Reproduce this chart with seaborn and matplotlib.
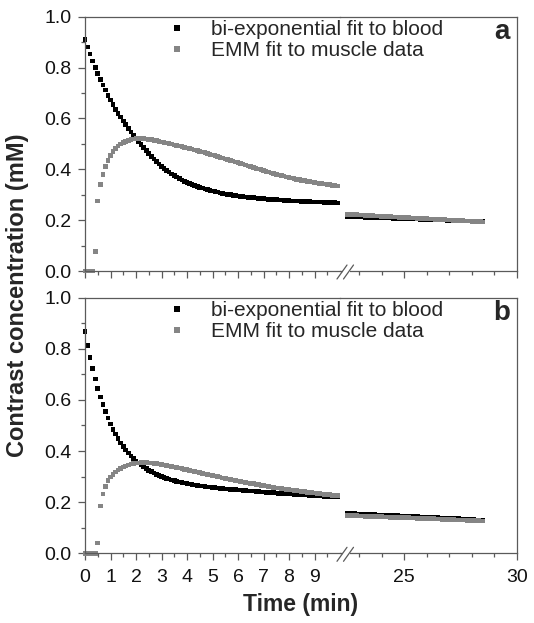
import numpy as np
import pandas as pd
import matplotlib
matplotlib.use("Agg")
import matplotlib.pyplot as plt
from matplotlib.ticker import FixedLocator, MultipleLocator, FormatStrFormatter
from matplotlib.lines import Line2D
from matplotlib.patches import Rectangle
import seaborn as sns

# ---- data ----
fits = ["bi-exponential fit to blood", "EMM fit to muscle data"]
fit_colors = {fits[0]: "#000000", fits[1]: "#858585"}

# sampling times (min): early part 0.0 ... 9.9, late part 22.5 ... 28.5
t_early = np.round(np.arange(0, 10.0, 0.1), 1)
t_late = np.round(np.arange(22.5, 28.55, 0.1), 1)

blood_a = [
    0.910, 0.881, 0.853, 0.826, 0.800, 0.776, 0.753, 0.731, 0.711, 0.691,
    0.672, 0.654, 0.636, 0.620, 0.605, 0.590, 0.575, 0.561, 0.547, 0.534,
    0.522, 0.509, 0.497, 0.485, 0.473, 0.462, 0.451, 0.441, 0.431, 0.421,
    0.412, 0.404, 0.396, 0.389, 0.382, 0.375, 0.369, 0.363, 0.358, 0.353,
    0.348, 0.344, 0.340, 0.336, 0.332, 0.329, 0.326, 0.323, 0.320, 0.317,
    0.314, 0.312, 0.310, 0.307, 0.305, 0.303, 0.301, 0.300, 0.298, 0.296,
    0.295, 0.294, 0.292, 0.291, 0.290, 0.289, 0.288, 0.287, 0.286, 0.285,
    0.284, 0.283, 0.282, 0.282, 0.281, 0.280, 0.279, 0.279, 0.278, 0.277,
    0.277, 0.276, 0.276, 0.275, 0.275, 0.274, 0.274, 0.273, 0.273, 0.272,
    0.272, 0.272, 0.271, 0.271, 0.270, 0.270, 0.270, 0.269, 0.269, 0.268,
]
muscle_a = [
    0.000, 0.000, 0.000, 0.000, 0.076, 0.275, 0.340, 0.380, 0.412, 0.435,
    0.454, 0.469, 0.481, 0.491, 0.499, 0.505, 0.510, 0.514, 0.517, 0.519,
    0.520, 0.521, 0.521, 0.520, 0.519, 0.518, 0.516, 0.514, 0.512, 0.510,
    0.508, 0.506, 0.503, 0.501, 0.499, 0.496, 0.494, 0.491, 0.489, 0.486,
    0.484, 0.481, 0.479, 0.476, 0.473, 0.471, 0.468, 0.465, 0.462, 0.459,
    0.456, 0.453, 0.450, 0.447, 0.444, 0.441, 0.438, 0.435, 0.432, 0.429,
    0.426, 0.423, 0.420, 0.417, 0.413, 0.410, 0.407, 0.404, 0.401, 0.398,
    0.395, 0.392, 0.389, 0.386, 0.383, 0.380, 0.378, 0.375, 0.373, 0.370,
    0.368, 0.366, 0.363, 0.361, 0.359, 0.357, 0.355, 0.353, 0.351, 0.350,
    0.348, 0.346, 0.345, 0.343, 0.342, 0.340, 0.339, 0.337, 0.336, 0.334,
]
blood_a_late = [
    0.214, 0.214, 0.213, 0.213, 0.213, 0.212, 0.212, 0.212, 0.211, 0.211,
    0.211, 0.210, 0.210, 0.210, 0.209, 0.209, 0.209, 0.208, 0.208, 0.208,
    0.207, 0.207, 0.207, 0.206, 0.206, 0.206, 0.205, 0.205, 0.205, 0.204,
    0.204, 0.204, 0.203, 0.203, 0.203, 0.202, 0.202, 0.202, 0.201, 0.201,
    0.201, 0.200, 0.200, 0.200, 0.199, 0.199, 0.199, 0.198, 0.198, 0.198,
    0.197, 0.197, 0.197, 0.196, 0.196, 0.196, 0.195, 0.195, 0.195, 0.194,
    0.194,
]
muscle_a_late = [
    0.2230, 0.2225, 0.2220, 0.2215, 0.2210, 0.2205, 0.2200, 0.2195, 0.2190, 0.2185,
    0.2180, 0.2175, 0.2170, 0.2165, 0.2160, 0.2155, 0.2150, 0.2145, 0.2140, 0.2135,
    0.2130, 0.2125, 0.2120, 0.2115, 0.2110, 0.2105, 0.2100, 0.2095, 0.2090, 0.2085,
    0.2080, 0.2075, 0.2070, 0.2065, 0.2060, 0.2055, 0.2050, 0.2045, 0.2040, 0.2035,
    0.2030, 0.2025, 0.2020, 0.2015, 0.2010, 0.2005, 0.2000, 0.1995, 0.1990, 0.1985,
    0.1980, 0.1975, 0.1970, 0.1965, 0.1960, 0.1955, 0.1950, 0.1945, 0.1940, 0.1935,
    0.1930,
]

blood_b = [
    0.867, 0.814, 0.766, 0.722, 0.682, 0.645, 0.612, 0.582, 0.554, 0.529,
    0.506, 0.485, 0.466, 0.448, 0.432, 0.417, 0.404, 0.392, 0.381, 0.371,
    0.361, 0.353, 0.345, 0.338, 0.331, 0.325, 0.319, 0.314, 0.309, 0.305,
    0.301, 0.297, 0.293, 0.290, 0.287, 0.284, 0.282, 0.279, 0.277, 0.275,
    0.273, 0.271, 0.269, 0.267, 0.266, 0.264, 0.263, 0.261, 0.260, 0.259,
    0.258, 0.257, 0.256, 0.254, 0.253, 0.252, 0.251, 0.250, 0.250, 0.249,
    0.248, 0.247, 0.246, 0.245, 0.244, 0.243, 0.243, 0.242, 0.241, 0.240,
    0.240, 0.239, 0.238, 0.237, 0.237, 0.236, 0.235, 0.235, 0.234, 0.233,
    0.232, 0.232, 0.231, 0.230, 0.230, 0.229, 0.228, 0.228, 0.227, 0.226,
    0.226, 0.225, 0.224, 0.224, 0.223, 0.222, 0.222, 0.221, 0.221, 0.220,
]
muscle_b = [
    0.000, 0.000, 0.000, 0.000, 0.000, 0.041, 0.185, 0.232, 0.262, 0.285,
    0.298, 0.309, 0.318, 0.326, 0.332, 0.338, 0.342, 0.346, 0.349, 0.351,
    0.353, 0.354, 0.355, 0.355, 0.355, 0.354, 0.353, 0.352, 0.351, 0.350,
    0.348, 0.346, 0.344, 0.342, 0.340, 0.338, 0.336, 0.333, 0.331, 0.329,
    0.327, 0.325, 0.322, 0.320, 0.318, 0.316, 0.313, 0.311, 0.309, 0.307,
    0.304, 0.302, 0.300, 0.298, 0.295, 0.293, 0.291, 0.289, 0.287, 0.285,
    0.283, 0.281, 0.279, 0.277, 0.275, 0.273, 0.272, 0.270, 0.268, 0.266,
    0.265, 0.263, 0.261, 0.260, 0.258, 0.256, 0.255, 0.253, 0.252, 0.250,
    0.249, 0.248, 0.246, 0.245, 0.243, 0.242, 0.241, 0.239, 0.238, 0.237,
    0.236, 0.234, 0.233, 0.232, 0.231, 0.230, 0.229, 0.227, 0.226, 0.225,
]
blood_b_late = [
    0.156, 0.156, 0.155, 0.155, 0.154, 0.154, 0.153, 0.153, 0.153, 0.152,
    0.152, 0.151, 0.151, 0.150, 0.150, 0.150, 0.149, 0.149, 0.148, 0.148,
    0.147, 0.147, 0.147, 0.146, 0.146, 0.145, 0.145, 0.144, 0.144, 0.143,
    0.143, 0.143, 0.142, 0.142, 0.141, 0.141, 0.140, 0.140, 0.140, 0.139,
    0.139, 0.138, 0.138, 0.137, 0.137, 0.137, 0.136, 0.136, 0.135, 0.135,
    0.134, 0.134, 0.134, 0.133, 0.133, 0.132, 0.132, 0.131, 0.131, 0.131,
    0.130,
]
muscle_b_late = [
    0.148, 0.148, 0.147, 0.147, 0.147, 0.146, 0.146, 0.146, 0.145, 0.145,
    0.145, 0.144, 0.144, 0.143, 0.143, 0.143, 0.142, 0.142, 0.142, 0.141,
    0.141, 0.141, 0.140, 0.140, 0.140, 0.139, 0.139, 0.139, 0.138, 0.138,
    0.138, 0.137, 0.137, 0.136, 0.136, 0.136, 0.135, 0.135, 0.135, 0.134,
    0.134, 0.134, 0.133, 0.133, 0.133, 0.132, 0.132, 0.132, 0.131, 0.131,
    0.131, 0.130, 0.130, 0.129, 0.129, 0.129, 0.128, 0.128, 0.128, 0.127,
    0.127,
]

panel_tags = ["a", "b"]


def make_frame(t, blood, muscle):
    return pd.concat([
        pd.DataFrame({"Time": t, "Conc": blood, "fit": fits[0]}),
        pd.DataFrame({"Time": t, "Conc": muscle, "fit": fits[1]}),
    ], ignore_index=True)


panels = [
    (make_frame(t_early, blood_a, muscle_a), make_frame(t_late, blood_a_late, muscle_a_late)),
    (make_frame(t_early, blood_b, muscle_b), make_frame(t_late, blood_b_late, muscle_b_late)),
]

# ---- style ----
sns.set_style("ticks")
plt.rcParams["font.family"] = ["Liberation Sans", "DejaVu Sans"]
axis_grey = "#5a5a5a"

W, H = 534, 623
fig = plt.figure(figsize=(W / 100, H / 100), dpi=100)


def px_box(x0, x1, y0, y1):
    # pixel box (from top-left) -> figure fraction rect
    return [x0 / W, 1 - y1 / H, (x1 - x0) / W, (y1 - y0) / H]


rows = [(16.7, 271.0), (297.7, 553.3)]
x_left, x_break, x_right = 85, 340, 517

for i, ((df_early, df_late), (top, bottom)) in enumerate(zip(panels, rows)):
    ax_l = fig.add_axes(px_box(x_left, x_break, top, bottom))
    ax_r = fig.add_axes(px_box(x_break, x_right, top, bottom))
    ax_r.set_facecolor("none")

    sns.scatterplot(data=df_early, x="Time", y="Conc", hue="fit", palette=fit_colors,
                    marker="s", s=11, linewidth=0, ax=ax_l, clip_on=False)
    sns.scatterplot(data=df_late, x="Time", y="Conc", hue="fit", palette=fit_colors,
                    marker="s", s=11, linewidth=0, ax=ax_r, legend=False, clip_on=False)

    sns.move_legend(ax_l, "upper left", bbox_to_anchor=(0.32, 0.9855), title=None,
                    frameon=False, fontsize=15, borderpad=0, borderaxespad=0,
                    handlelength=1.0, handletextpad=1.11, labelspacing=0.1,
                    markerscale=1.3)

    ax_l.set_xlim(0, 10)
    ax_r.set_xlim(22.16, 30)
    for ax in (ax_l, ax_r):
        ax.set_ylim(0, 1)
        ax.set_xlabel("")
        ax.set_ylabel("")
        for sp in ax.spines.values():
            sp.set_color(axis_grey)
            sp.set_linewidth(0.9)
        ax.tick_params(which="major", direction="out", length=5, width=0.9,
                       color=axis_grey, labelsize=14, labelcolor="#111111",
                       top=False, right=False)
        ax.tick_params(which="minor", direction="out", length=3, width=0.9,
                       color=axis_grey, top=False, right=False)
        ax.tick_params(axis="x", which="major", pad=6)
        ax.tick_params(axis="y", which="major", pad=4.5)
    ax_l.spines["right"].set_visible(False)
    ax_r.spines["left"].set_visible(False)

    ax_l.xaxis.set_major_locator(FixedLocator(list(range(10))))
    ax_l.xaxis.set_minor_locator(FixedLocator(list(np.arange(0.5, 10, 1.0))))
    ax_l.yaxis.set_major_locator(MultipleLocator(0.2))
    ax_l.yaxis.set_minor_locator(MultipleLocator(0.1))
    ax_l.yaxis.set_major_formatter(FormatStrFormatter("%.1f"))
    ax_r.xaxis.set_major_locator(FixedLocator([25, 30]))
    ax_r.xaxis.set_minor_locator(FixedLocator([23, 24, 26, 27, 28, 29]))
    ax_r.tick_params(axis="y", which="both", left=False, labelleft=False)

    if i == 0:
        ax_l.tick_params(labelbottom=False)
        ax_r.tick_params(labelbottom=False)

    # axis break "//" on the bottom spine
    fig.add_artist(Rectangle((342.5 / W, 1 - (bottom + 2) / H), 7 / W, 4 / H,
                             transform=fig.transFigure, facecolor="white",
                             edgecolor="none", zorder=10))
    for x0 in (337.0, 343.5):
        fig.add_artist(Line2D([x0 / W, (x0 + 10) / W],
                              [1 - (bottom + 8) / H, 1 - (bottom - 6) / H],
                              transform=fig.transFigure, color=axis_grey,
                              lw=0.9, zorder=11))

    fig.text(501.7 / W, 1 - (top + 15.5) / H, panel_tags[i], fontsize=20,
             fontweight="bold", ha="center", va="center")

fig.text(18 / W, 1 - 295 / H, "Contrast concentration (mM)", rotation=90,
         fontsize=17, fontweight="bold", ha="center", va="center")
fig.text(301 / W, 1 - 604 / H, "Time (min)", fontsize=16.5,
         fontweight="bold", ha="center", va="center")

fig.savefig("out.png", dpi=100)
